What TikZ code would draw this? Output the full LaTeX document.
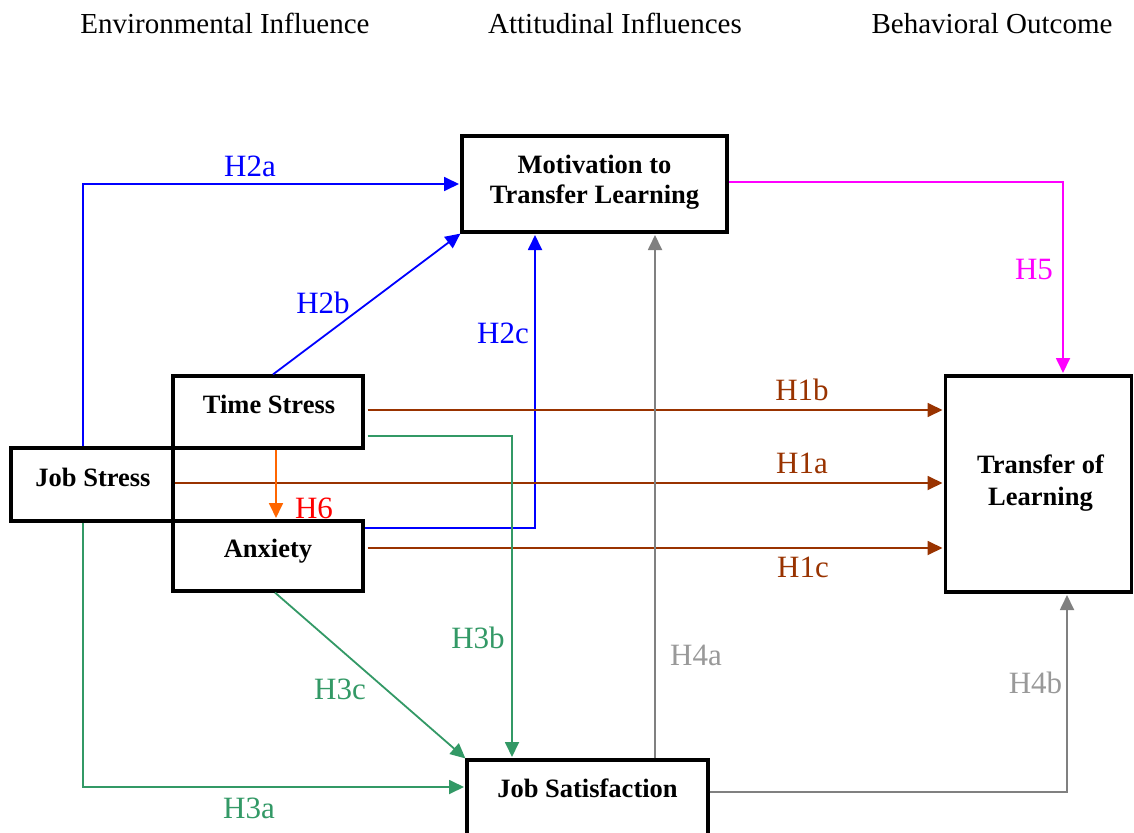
\documentclass[tikz,border=0pt]{standalone}
\usepackage{fontspec}
\setmainfont{Liberation Serif}
\usetikzlibrary{arrows.meta,calc}
\definecolor{hblue}{HTML}{0000FF}
\definecolor{hmagenta}{HTML}{FF00FF}
\definecolor{hbrown}{HTML}{993300}
\definecolor{hgreen}{HTML}{339966}
\definecolor{hgray}{HTML}{808080}
\definecolor{hgraytext}{HTML}{999999}
\definecolor{horange}{HTML}{FF6600}
\definecolor{hred}{HTML}{FF0000}
\begin{document}
\begin{tikzpicture}[x=1pt,y=-1pt,
  box/.style={draw=black,line width=3.2pt,fill=white,inner sep=0pt},
  conn/.style={line width=1.8pt,shorten >=1.4pt,-{Triangle[length=15pt,width=14pt]}},
  lab/.style={anchor=base,inner sep=0pt,font=\fontsize{31}{31}\selectfont},
  boxtext/.style={anchor=base,inner sep=0pt,font=\fontsize{26.5}{31}\selectfont\bfseries},
  head/.style={anchor=base,inner sep=0pt,font=\fontsize{29}{29}\selectfont}]
\clip (0,0) rectangle (1134,832);
\fill[white] (0,0) rectangle (1134,832);

% column headings
\node[head] (hEnv) at (225,34) {Environmental Influence};
\node[head] (hAtt) at (615,34) {Attitudinal Influences};
\node[head] (hBeh) at (992,34) {Behavioral Outcome};

% construct boxes
\node[box,minimum width=162pt,minimum height=73pt] (js) at (92,484.5) {};
\node[box,minimum width=190pt,minimum height=72pt] (ts) at (268,412) {};
\node[box,minimum width=190pt,minimum height=70pt] (ax) at (268,556) {};
\node[box,minimum width=265pt,minimum height=96pt] (mot) at (594.5,184) {};
\node[box,minimum width=186pt,minimum height=216pt] (tol) at (1038.5,484) {};
\node[box,minimum width=241pt,minimum height=80pt] (jsat) at (587.5,800) {};

% box labels
\node[boxtext] (tJs) at (93,486) {Job Stress};
\node[boxtext] (tTs) at (269,413) {Time Stress};
\node[boxtext] (tAx) at (268,557) {Anxiety};
\node[boxtext] (tMot1) at (594.5,173) {Motivation to};
\node[boxtext] (tMot2) at (594.5,203) {Transfer Learning};
\node[boxtext] (tTol1) at (1040.5,473) {Transfer of};
\node[boxtext] (tTol2) at (1040.5,505) {Learning};
\node[boxtext] (tJsat) at (587.5,797) {Job Satisfaction};

% H2: stress -> motivation
\draw[conn,hblue] ([xshift=-9pt]js.north) |- (mot.west);
\draw[conn,hblue,shorten >=0pt] ([xshift=5pt]ts.north) -- (mot.south west);
\draw[conn,hblue] ([yshift=28pt]ax.east) -| ([xshift=-59.5pt]mot.south);

% H5: motivation -> transfer
\draw[conn,hmagenta] ([yshift=2pt]mot.east) -| ([xshift=24.5pt]tol.north);

% H1: stress -> transfer
\draw[conn,hbrown,shorten <=3pt] ([yshift=2pt]ts.east) -- ([yshift=2pt]ts.east -| tol.west);
\draw[conn,hbrown] ([yshift=1.5pt]js.east) -- ([yshift=1.5pt]js.east -| tol.west);
\draw[conn,hbrown,shorten <=3pt] ([yshift=8pt]ax.east) -- ([yshift=8pt]ax.east -| tol.west);

% H6: time stress -> anxiety
\draw[conn,horange] ([xshift=8pt]ts.south) -- ([xshift=8pt]ax.north);

% H3: stress -> job satisfaction
\draw[conn,hgreen,shorten <=3pt] ([yshift=-24pt]ts.east) -| ([xshift=-75.5pt]jsat.north);
\draw[conn,hgreen,shorten >=0pt] ([xshift=7pt]ax.south) -- (jsat.north west);
\draw[conn,hgreen] ([xshift=-9pt]js.south) |- ([yshift=13pt]jsat.west);

% H4: job satisfaction -> motivation, transfer
\draw[conn,hgray] ([xshift=67.5pt]jsat.north) -- ([xshift=67.5pt]jsat.north |- mot.south);
\draw[conn,hgray] ([yshift=8pt]jsat.east) -| ([xshift=28.5pt]tol.south);

% hypothesis labels
\node[lab,hblue] (lH2a) at (250,176) {H2a};
\node[lab,hblue] (lH2b) at (323,313) {H2b};
\node[lab,hblue] (lH2c) at (503,343) {H2c};
\node[lab,hmagenta] (lH5) at (1034,279) {H5};
\node[lab,hbrown] (lH1b) at (802,400) {H1b};
\node[lab,hbrown] (lH1a) at (802,473) {H1a};
\node[lab,hbrown] (lH1c) at (803,577) {H1c};
\node[lab,hred] (lH6) at (314,518) {H6};
\node[lab,hgreen] (lH3b) at (478,648) {H3b};
\node[lab,hgreen] (lH3c) at (340,699) {H3c};
\node[lab,hgreen] (lH3a) at (249,818) {H3a};
\node[lab,hgraytext] (lH4a) at (696,665) {H4a};
\node[lab,hgraytext] (lH4b) at (1035.5,693) {H4b};
\end{tikzpicture}
\end{document}
